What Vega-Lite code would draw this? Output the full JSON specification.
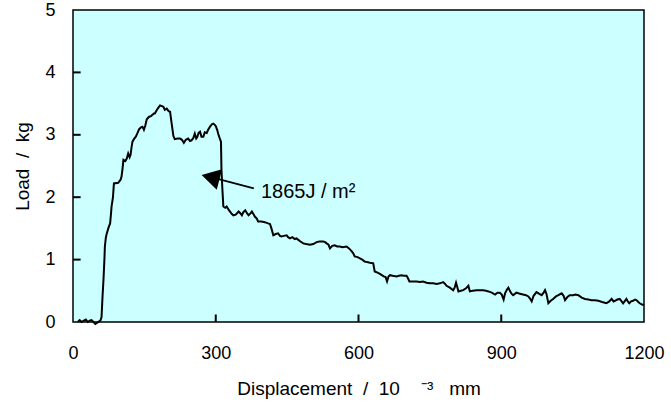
{
  "$schema": "https://vega.github.io/schema/vega-lite/v6.json",
  "width": 571,
  "height": 312,
  "autosize": {"type": "none"},
  "padding": {"left": 73, "top": 10, "right": 27, "bottom": 81},
  "background": "white",
  "config": {
    "font": "Liberation Sans",
    "view": {"stroke": "black", "strokeWidth": 1.5, "fill": "#ccffff"},
    "axis": {
      "grid": false,
      "ticks": true,
      "tickSize": 0,
      "domain": false,
      "labelFont": "Liberation Sans",
      "labelFontSize": 18,
      "labelColor": "black",
      "titleFont": "Liberation Sans",
      "titleFontSize": 19,
      "titleFontWeight": "normal",
      "titleColor": "black"
    }
  },
  "datasets": {
    "curve": [
      {"d": 10, "load": 0.0}, {"d": 14, "load": 0.03}, {"d": 18, "load": 0.0}, {"d": 22, "load": 0.02}, {"d": 27, "load": 0.04}, {"d": 31, "load": 0.0}, {"d": 35, "load": 0.02}, {"d": 39, "load": 0.03}, {"d": 43, "load": 0.0}, {"d": 47, "load": -0.03}, {"d": 51, "load": -0.01}, {"d": 55, "load": 0.01}, {"d": 58, "load": 0.03}, {"d": 60, "load": 0.08},
      {"d": 62, "load": 0.4}, {"d": 64, "load": 0.67}, {"d": 66, "load": 1.0}, {"d": 67, "load": 1.21}, {"d": 69, "load": 1.35}, {"d": 71, "load": 1.42}, {"d": 75, "load": 1.52}, {"d": 78, "load": 1.58}, {"d": 80, "load": 1.75}, {"d": 81, "load": 1.85}, {"d": 84, "load": 2.0}, {"d": 86, "load": 2.22}, {"d": 95, "load": 2.23}, {"d": 100, "load": 2.28}, {"d": 102, "load": 2.33}, {"d": 104, "load": 2.45}, {"d": 106, "load": 2.6}, {"d": 110, "load": 2.58}, {"d": 113, "load": 2.62}, {"d": 116, "load": 2.7}, {"d": 119, "load": 2.64}, {"d": 121, "load": 2.68}, {"d": 123, "load": 2.8}, {"d": 125, "load": 2.89}, {"d": 128, "load": 2.93}, {"d": 132, "load": 2.97}, {"d": 135, "load": 3.02}, {"d": 139, "load": 3.09}, {"d": 143, "load": 3.12}, {"d": 146, "load": 3.13}, {"d": 149, "load": 3.08}, {"d": 152, "load": 3.15}, {"d": 155, "load": 3.25}, {"d": 160, "load": 3.29}, {"d": 164, "load": 3.3}, {"d": 167, "load": 3.32}, {"d": 170, "load": 3.34}, {"d": 172, "load": 3.34}, {"d": 175, "load": 3.38}, {"d": 178, "load": 3.42}, {"d": 183, "load": 3.47}, {"d": 187, "load": 3.46}, {"d": 190, "load": 3.45}, {"d": 193, "load": 3.4}, {"d": 197, "load": 3.42}, {"d": 201, "load": 3.38}, {"d": 204, "load": 3.37}, {"d": 207, "load": 3.2}, {"d": 211, "load": 2.98}, {"d": 214, "load": 2.93}, {"d": 220, "load": 2.94}, {"d": 225, "load": 2.94}, {"d": 229, "load": 2.92}, {"d": 233, "load": 2.87}, {"d": 237, "load": 2.92}, {"d": 242, "load": 2.94}, {"d": 246, "load": 2.9}, {"d": 249, "load": 2.91}, {"d": 253, "load": 2.95}, {"d": 256, "load": 3.02}, {"d": 259, "load": 2.94}, {"d": 261, "load": 2.96}, {"d": 264, "load": 3.03}, {"d": 267, "load": 3.05}, {"d": 270, "load": 2.97}, {"d": 274, "load": 2.97}, {"d": 277, "load": 3.04}, {"d": 281, "load": 3.03}, {"d": 284, "load": 3.08}, {"d": 288, "load": 3.13}, {"d": 292, "load": 3.17}, {"d": 295, "load": 3.18}, {"d": 298, "load": 3.16}, {"d": 300, "load": 3.14}, {"d": 303, "load": 3.08}, {"d": 305, "load": 3.02}, {"d": 308, "load": 2.95}, {"d": 311, "load": 2.89}, {"d": 312, "load": 2.44}, {"d": 314, "load": 2.12}, {"d": 316, "load": 1.85}, {"d": 320, "load": 1.83}, {"d": 323, "load": 1.85}, {"d": 327, "load": 1.8}, {"d": 330, "load": 1.77}, {"d": 334, "load": 1.73}, {"d": 337, "load": 1.71}, {"d": 342, "load": 1.72}, {"d": 348, "load": 1.77}, {"d": 352, "load": 1.74}, {"d": 355, "load": 1.71}, {"d": 358, "load": 1.76}, {"d": 362, "load": 1.79}, {"d": 366, "load": 1.74}, {"d": 369, "load": 1.71}, {"d": 373, "load": 1.74}, {"d": 376, "load": 1.77}, {"d": 380, "load": 1.72}, {"d": 382, "load": 1.69}, {"d": 386, "load": 1.66}, {"d": 389, "load": 1.61}, {"d": 396, "load": 1.61}, {"d": 403, "load": 1.6}, {"d": 410, "load": 1.58}, {"d": 414, "load": 1.57}, {"d": 417, "load": 1.5}, {"d": 421, "load": 1.39}, {"d": 426, "load": 1.41}, {"d": 431, "load": 1.42}, {"d": 435, "load": 1.38}, {"d": 438, "load": 1.37}, {"d": 443, "load": 1.38}, {"d": 449, "load": 1.39}, {"d": 452, "load": 1.36}, {"d": 456, "load": 1.34}, {"d": 461, "load": 1.36}, {"d": 466, "load": 1.33}, {"d": 470, "load": 1.34}, {"d": 473, "load": 1.32}, {"d": 478, "load": 1.29}, {"d": 484, "load": 1.26}, {"d": 490, "load": 1.25}, {"d": 498, "load": 1.24}, {"d": 505, "load": 1.25}, {"d": 512, "load": 1.28}, {"d": 518, "load": 1.29}, {"d": 526, "load": 1.29}, {"d": 530, "load": 1.28}, {"d": 533, "load": 1.26}, {"d": 537, "load": 1.24}, {"d": 540, "load": 1.18}, {"d": 545, "load": 1.22}, {"d": 550, "load": 1.23}, {"d": 555, "load": 1.21}, {"d": 561, "load": 1.21}, {"d": 566, "load": 1.2}, {"d": 575, "load": 1.21}, {"d": 580, "load": 1.18}, {"d": 585, "load": 1.14}, {"d": 589, "load": 1.1}, {"d": 592, "load": 1.05}, {"d": 598, "load": 1.04}, {"d": 603, "load": 1.02}, {"d": 608, "load": 1.0}, {"d": 613, "load": 0.97}, {"d": 618, "load": 0.96}, {"d": 624, "load": 0.95}, {"d": 631, "load": 0.94}, {"d": 634, "load": 0.81}, {"d": 640, "load": 0.79}, {"d": 645, "load": 0.77}, {"d": 649, "load": 0.75}, {"d": 653, "load": 0.73}, {"d": 657, "load": 0.72}, {"d": 660, "load": 0.65}, {"d": 663, "load": 0.73}, {"d": 666, "load": 0.75}, {"d": 672, "load": 0.74}, {"d": 680, "load": 0.73}, {"d": 685, "load": 0.74}, {"d": 690, "load": 0.75}, {"d": 695, "load": 0.74}, {"d": 701, "load": 0.74}, {"d": 704, "load": 0.7}, {"d": 707, "load": 0.65}, {"d": 715, "load": 0.65}, {"d": 722, "load": 0.65}, {"d": 729, "load": 0.64}, {"d": 736, "load": 0.65}, {"d": 743, "load": 0.63}, {"d": 750, "load": 0.62}, {"d": 757, "load": 0.62}, {"d": 764, "load": 0.61}, {"d": 771, "load": 0.62}, {"d": 778, "load": 0.64}, {"d": 782, "load": 0.61}, {"d": 785, "load": 0.58}, {"d": 792, "load": 0.55}, {"d": 799, "load": 0.51}, {"d": 802, "load": 0.55}, {"d": 805, "load": 0.63}, {"d": 808, "load": 0.55}, {"d": 810, "load": 0.49}, {"d": 815, "load": 0.5}, {"d": 820, "load": 0.51}, {"d": 826, "load": 0.54}, {"d": 831, "load": 0.58}, {"d": 834, "load": 0.49}, {"d": 840, "load": 0.5}, {"d": 848, "load": 0.51}, {"d": 855, "load": 0.51}, {"d": 862, "load": 0.51}, {"d": 868, "load": 0.5}, {"d": 873, "load": 0.49}, {"d": 880, "load": 0.47}, {"d": 887, "load": 0.44}, {"d": 892, "load": 0.47}, {"d": 897, "load": 0.47}, {"d": 901, "load": 0.44}, {"d": 905, "load": 0.36}, {"d": 908, "load": 0.46}, {"d": 912, "load": 0.52}, {"d": 915, "load": 0.55}, {"d": 918, "load": 0.5}, {"d": 922, "load": 0.45}, {"d": 925, "load": 0.43}, {"d": 932, "load": 0.47}, {"d": 936, "load": 0.46}, {"d": 941, "load": 0.45}, {"d": 946, "load": 0.44}, {"d": 952, "load": 0.43}, {"d": 957, "load": 0.41}, {"d": 960, "load": 0.38}, {"d": 964, "load": 0.33}, {"d": 968, "load": 0.42}, {"d": 974, "load": 0.48}, {"d": 980, "load": 0.45}, {"d": 985, "load": 0.43}, {"d": 989, "load": 0.47}, {"d": 992, "load": 0.51}, {"d": 995, "load": 0.45}, {"d": 999, "load": 0.3}, {"d": 1004, "load": 0.34}, {"d": 1009, "load": 0.37}, {"d": 1015, "load": 0.41}, {"d": 1020, "load": 0.43}, {"d": 1027, "load": 0.46}, {"d": 1031, "load": 0.42}, {"d": 1034, "load": 0.35}, {"d": 1039, "load": 0.4}, {"d": 1044, "load": 0.43}, {"d": 1051, "load": 0.43}, {"d": 1056, "load": 0.44}, {"d": 1062, "load": 0.43}, {"d": 1069, "load": 0.39}, {"d": 1076, "load": 0.37}, {"d": 1083, "load": 0.36}, {"d": 1090, "load": 0.35}, {"d": 1097, "load": 0.35}, {"d": 1104, "load": 0.34}, {"d": 1112, "load": 0.32}, {"d": 1121, "load": 0.3}, {"d": 1127, "load": 0.33}, {"d": 1132, "load": 0.37}, {"d": 1136, "load": 0.33}, {"d": 1139, "load": 0.34}, {"d": 1144, "load": 0.36}, {"d": 1149, "load": 0.37}, {"d": 1153, "load": 0.33}, {"d": 1156, "load": 0.3}, {"d": 1160, "load": 0.34}, {"d": 1163, "load": 0.37}, {"d": 1166, "load": 0.33}, {"d": 1169, "load": 0.3}, {"d": 1173, "load": 0.33}, {"d": 1177, "load": 0.34}, {"d": 1181, "load": 0.36}, {"d": 1184, "load": 0.35}, {"d": 1188, "load": 0.32}, {"d": 1191, "load": 0.3}, {"d": 1196, "load": 0.28}, {"d": 1200, "load": 0.27}
    ],
    "xTicks": [{"v": 300}, {"v": 600}, {"v": 900}],
    "yTicks": [{"v": 1}, {"v": 2}, {"v": 3}, {"v": 4}],
    "arrowLine": [{"x1": 380, "y1": 2.14, "x2": 300, "y2": 2.3}],
    "arrowHead": [{"x": 289, "y": 2.32}],
    "label": [{"x": 395, "y": 1.98, "text": "1865J / m²"}]
  },
  "layer": [
    {
      "data": {"name": "curve"},
      "mark": {"type": "line", "color": "black", "strokeWidth": 2, "interpolate": "linear"},
      "encoding": {
        "x": {
          "field": "d", "type": "quantitative",
          "scale": {"domain": [0, 1200], "nice": false, "zero": false},
          "axis": {
            "values": [0, 300, 600, 900, 1200],
            "format": "d",
            "labelPadding": 22,
            "labelFlush": false,
            "title": "Displacement\u00a0\u00a0/\u00a0\u00a010\u00a0\u00a0\u00a0\u00a0⁻³\u00a0\u00a0\u00a0mm",
            "titlePadding": 17
          }
        },
        "y": {
          "field": "load", "type": "quantitative",
          "scale": {"domain": [0, 5], "nice": false},
          "axis": {
            "values": [0, 1, 2, 3, 4, 5],
            "format": "d",
            "labelPadding": 18,
            "labelFlush": false,
            "title": "Load\u00a0\u00a0/\u00a0\u00a0kg",
            "titlePadding": 12
          }
        }
      }
    },
    {
      "data": {"name": "xTicks"},
      "mark": {"type": "rule", "color": "black", "strokeWidth": 2},
      "encoding": {
        "x": {"field": "v", "type": "quantitative"},
        "y": {"datum": 0},
        "y2": {"datum": 0.12}
      }
    },
    {
      "data": {"name": "yTicks"},
      "mark": {"type": "rule", "color": "black", "strokeWidth": 2},
      "encoding": {
        "y": {"field": "v", "type": "quantitative"},
        "x": {"datum": 0},
        "x2": {"datum": 16}
      }
    },
    {
      "data": {"name": "arrowLine"},
      "mark": {"type": "rule", "color": "black", "strokeWidth": 1.8},
      "encoding": {
        "x": {"field": "x1", "type": "quantitative"},
        "y": {"field": "y1", "type": "quantitative"},
        "x2": {"field": "x2"},
        "y2": {"field": "y2"}
      }
    },
    {
      "data": {"name": "arrowHead"},
      "mark": {"type": "point", "shape": "triangle-left", "filled": true, "color": "black", "opacity": 1, "size": 450, "angle": 14.5},
      "encoding": {
        "x": {"field": "x", "type": "quantitative"},
        "y": {"field": "y", "type": "quantitative"}
      }
    },
    {
      "data": {"name": "label"},
      "mark": {"type": "text", "align": "left", "baseline": "alphabetic", "fontSize": 20, "font": "Liberation Sans", "color": "black"},
      "encoding": {
        "x": {"field": "x", "type": "quantitative"},
        "y": {"field": "y", "type": "quantitative"},
        "text": {"field": "text"}
      }
    }
  ]
}
